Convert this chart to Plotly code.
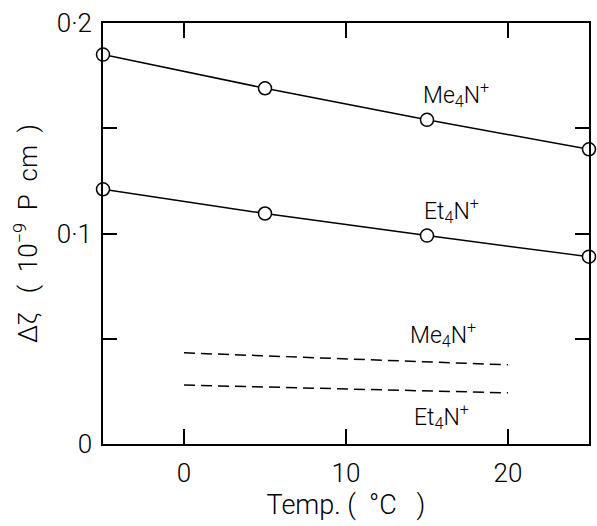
import plotly.graph_objects as go

temps = [-5, 5, 15, 25]
me4n = [0.185, 0.169, 0.154, 0.140]
et4n = [0.121, 0.1095, 0.099, 0.089]

dash_temps = [0, 20]
me4n_dash = [0.0433, 0.0376]
et4n_dash = [0.028, 0.0243]

x_ticks = [0, 10, 20]
x_labels = ["0", "10", "20"]
y_ticks = [0, 0.05, 0.1, 0.15, 0.2]
y_labels = ["0", "", "0·1", "", "0·2"]

font = "Roboto, sans-serif"
W = 300

fig = go.Figure()
for ys in (me4n, et4n):
    fig.add_trace(go.Scatter(
        x=temps, y=ys, mode="lines+markers", cliponaxis=False,
        line=dict(color="black", width=1.5),
        marker=dict(symbol="circle", size=13, color="white",
                    line=dict(color="black", width=1.5)),
        showlegend=False))
for ys in (me4n_dash, et4n_dash):
    fig.add_trace(go.Scatter(
        x=dash_temps, y=ys, mode="lines",
        line=dict(color="black", width=1.5, dash="11px,6px"),
        showlegend=False))

labels = [
    (16.8, 0.166, "Me<sub>4</sub>N<sup>+</sup>"),
    (16.5, 0.111, "Et<sub>4</sub>N<sup>+</sup>"),
    (16.0, 0.052, "Me<sub>4</sub>N<sup>+</sup>"),
    (15.9, 0.013, "Et<sub>4</sub>N<sup>+</sup>"),
]
for x, y, t in labels:
    fig.add_annotation(x=x, y=y, text=t, showarrow=False,
                       font=dict(family=font, size=23, weight=W, color="black"))

fig.update_xaxes(range=[-5, 25], tickvals=x_ticks, ticktext=x_labels,
                 ticks="inside", ticklen=15, tickwidth=1.5, tickcolor="black",
                 showline=True, linecolor="black", linewidth=1.5, mirror="ticks",
                 showgrid=False, zeroline=False, ticklabelstandoff=5,
                 tickfont=dict(family=font, size=26, weight=W, color="black"),
                 title=dict(text="Temp. (  °C   )", standoff=8,
                            font=dict(family=font, size=27, weight=W, color="black")))
fig.update_yaxes(range=[0, 0.2], tickvals=y_ticks, ticktext=y_labels,
                 ticks="inside", ticklen=14, tickwidth=1.5, tickcolor="black",
                 showline=True, linecolor="black", linewidth=1.5, mirror="ticks",
                 showgrid=False, zeroline=False, ticklabelstandoff=4,
                 tickfont=dict(family=font, size=26, weight=W, color="black"),
                 title=dict(text="Δζ   (  10<sup>−9</sup>  P  cm  )", standoff=12,
                            font=dict(family=font, size=26, weight=W, color="black")))
fig.update_layout(width=597, height=526, plot_bgcolor="white", paper_bgcolor="white",
                  margin=dict(l=103, r=6, t=23, b=82))
fig.write_html("out.html", config={"displayModeBar": False},
               post_script="document.body.style.margin='0';")
